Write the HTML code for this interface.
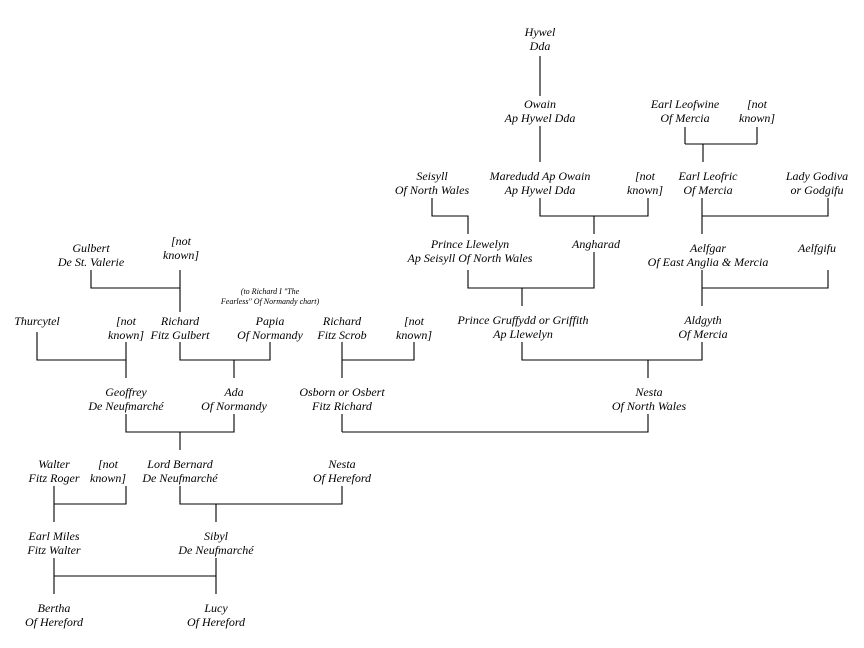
<!DOCTYPE html>
<html><head><meta charset="utf-8"><style>
html,body{margin:0;padding:0;background:#fff;}
svg{display:block;}
text{font-family:"Liberation Serif",serif;font-style:italic;font-size:12px;fill:#000;text-anchor:middle;}
.s{font-size:8px;}
</style></head><body>
<svg width="864" height="648" viewBox="0 0 864 648">
<g stroke="#000" stroke-width="1.1" fill="none">
<path d="M540 56V96 M540 126V162"/>
<path d="M685 127V144 M757 127V144 M685 144H757 M703 144V162"/>
<path d="M432 198V216H468V234 M540 198V216H648V198 M594 216V234"/>
<path d="M702 198V234 M702 216H828V198"/>
<path d="M468 270V288H594V252 M522 288V306"/>
<path d="M702 270V306 M702 288H828V270"/>
<path d="M522 342V360H702V342 M648 360V378"/>
<path d="M648 414V432H342"/>
<path d="M91 270V288H180 M180 270V312"/>
<path d="M37 332V360H126V342 M126 360V378"/>
<path d="M180 342V360H270V342 M234 360V378"/>
<path d="M342 342V378 M342 360H414V342"/>
<path d="M126 414V432H234V414 M180 432V450 M342 414V432"/>
<path d="M126 486V504H54 M54 486V522"/>
<path d="M180 486V504H342V486 M216 504V522"/>
<path d="M54 558V594 M216 558V594 M54 576H216"/>
</g>
<text x="540" y="36">Hywel</text><text x="540" y="50">Dda</text>
<text x="540" y="108">Owain</text><text x="540" y="122">Ap Hywel Dda</text>
<text x="685" y="108">Earl Leofwine</text><text x="685" y="122">Of Mercia</text>
<text x="757" y="108">[not</text><text x="757" y="122">known]</text>
<text x="432" y="180">Seisyll</text><text x="432" y="194">Of North Wales</text>
<text x="540" y="180">Maredudd Ap Owain</text><text x="540" y="194">Ap Hywel Dda</text>
<text x="645" y="180">[not</text><text x="645" y="194">known]</text>
<text x="708" y="180">Earl Leofric</text><text x="708" y="194">Of Mercia</text>
<text x="817" y="180">Lady Godiva</text><text x="817" y="194">or Godgifu</text>
<text x="470" y="248">Prince Llewelyn</text><text x="470" y="262">Ap Seisyll Of North Wales</text>
<text x="596" y="248">Angharad</text>
<text x="708" y="252">Aelfgar</text><text x="708" y="266">Of East Anglia &amp; Mercia</text>
<text x="817" y="252">Aelfgifu</text>
<text x="523" y="324">Prince Gruffydd or Griffith</text><text x="523" y="338">Ap Llewelyn</text>
<text x="703" y="324">Aldgyth</text><text x="703" y="338">Of Mercia</text>
<text x="649" y="396">Nesta</text><text x="649" y="410">Of North Wales</text>
<text x="91" y="252">Gulbert</text><text x="91" y="266">De St. Valerie</text>
<text x="181" y="245">[not</text><text x="181" y="259">known]</text>
<text class="s" x="270" y="294">(to Richard I "The</text><text class="s" x="270" y="304">Fearless" Of Normandy chart)</text>
<text x="37" y="325">Thurcytel</text>
<text x="126" y="325">[not</text><text x="126" y="339">known]</text>
<text x="180" y="325">Richard</text><text x="180" y="339">Fitz Gulbert</text>
<text x="270" y="325">Papia</text><text x="270" y="339">Of Normandy</text>
<text x="342" y="325">Richard</text><text x="342" y="339">Fitz Scrob</text>
<text x="414" y="325">[not</text><text x="414" y="339">known]</text>
<text x="126" y="396">Geoffrey</text><text x="126" y="410">De Neufmarché</text>
<text x="234" y="396">Ada</text><text x="234" y="410">Of Normandy</text>
<text x="342" y="396">Osborn or Osbert</text><text x="342" y="410">Fitz Richard</text>
<text x="54" y="468">Walter</text><text x="54" y="482">Fitz Roger</text>
<text x="108" y="468">[not</text><text x="108" y="482">known]</text>
<text x="180" y="468">Lord Bernard</text><text x="180" y="482">De Neufmarché</text>
<text x="342" y="468">Nesta</text><text x="342" y="482">Of Hereford</text>
<text x="54" y="540">Earl Miles</text><text x="54" y="554">Fitz Walter</text>
<text x="216" y="540">Sibyl</text><text x="216" y="554">De Neufmarché</text>
<text x="54" y="612">Bertha</text><text x="54" y="626">Of Hereford</text>
<text x="216" y="612">Lucy</text><text x="216" y="626">Of Hereford</text>
</svg>
</body></html>
